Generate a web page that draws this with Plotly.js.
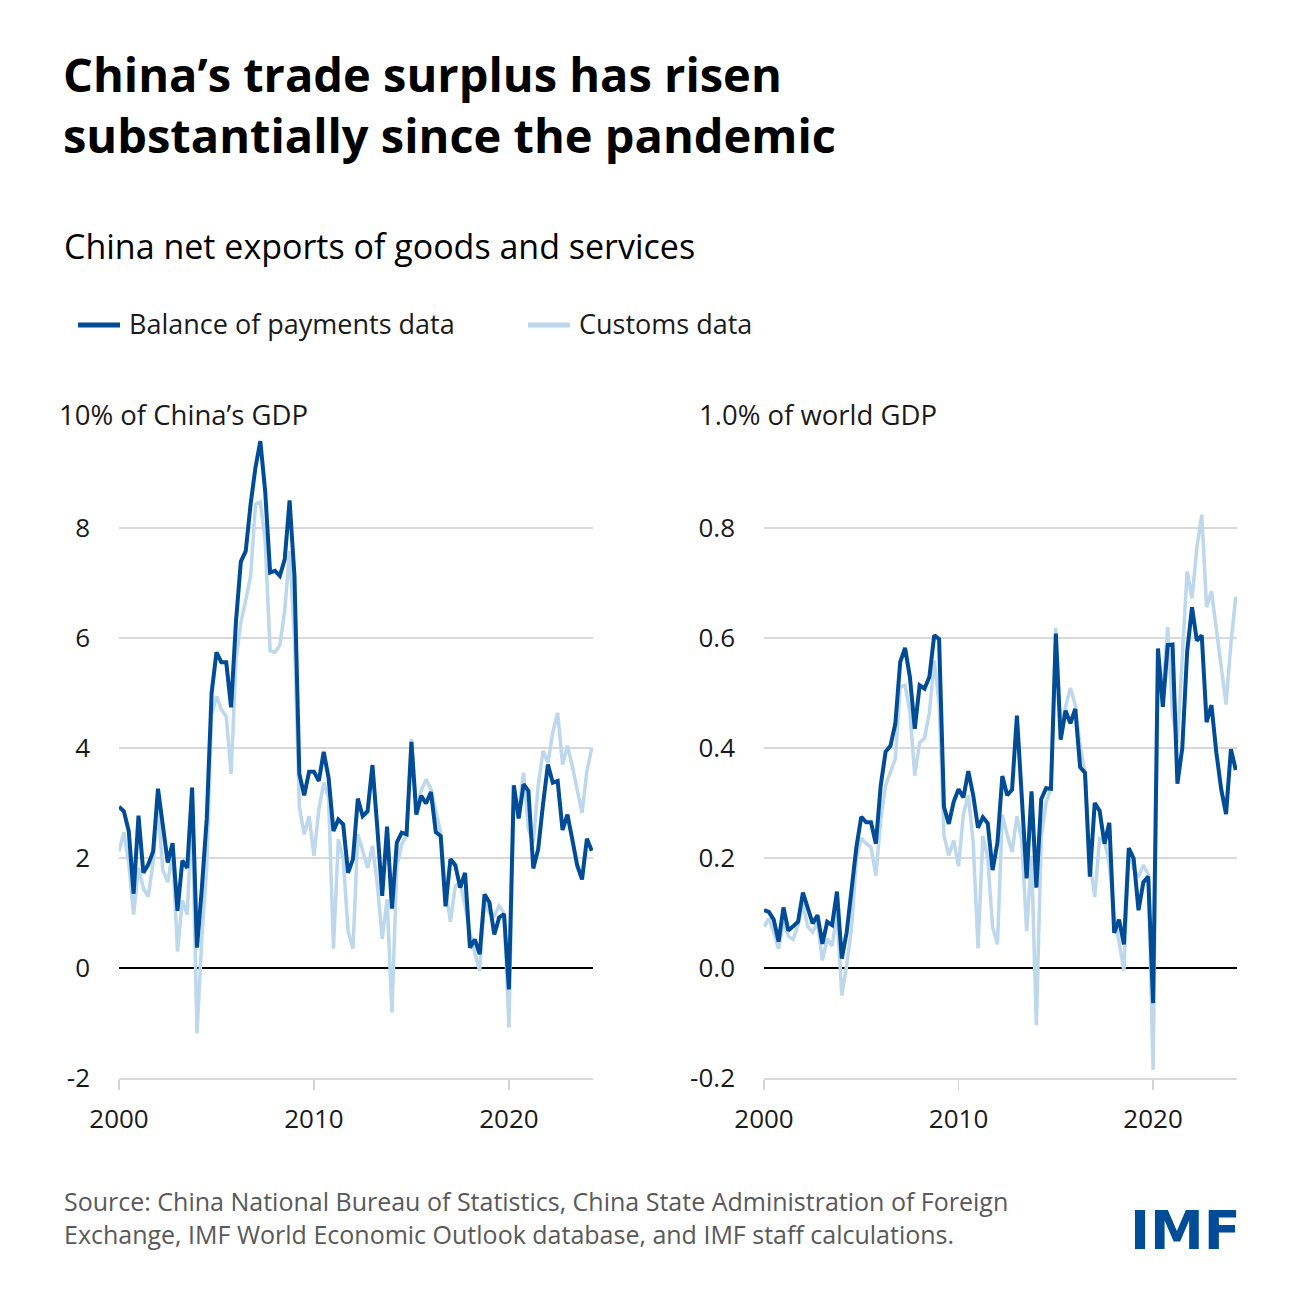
<!DOCTYPE html>
<html>
<head>
<meta charset="utf-8">
<script src="https://cdn.plot.ly/plotly-3.0.1.min.js"></script>
<style>
  html, body { margin: 0; padding: 0; background: #ffffff; }
  #chart { width: 1300px; height: 1300px; }
</style>
</head>
<body>
<div id="chart"></div>
<script>
// ---- Data (quarterly, 2000 Q1 – 2024 Q2) ----
const startYear = 2000;
const nQuarters = 98;

// Percent of China's GDP
const bopChinaGDP = [
  2.93, 2.85, 2.49, 1.35, 2.77, 1.73, 1.88, 2.12, 3.26, 2.56,
  1.92, 2.27, 1.04, 1.95, 1.82, 3.28, 0.37, 1.45, 2.71, 5.00,
  5.74, 5.56, 5.56, 4.74, 6.30, 7.39, 7.58, 8.43, 9.10, 9.58,
  8.66, 7.19, 7.22, 7.13, 7.43, 8.50, 7.13, 3.53, 3.14, 3.57,
  3.57, 3.40, 3.93, 3.46, 2.49, 2.70, 2.61, 1.73, 1.98, 3.08,
  2.76, 2.85, 3.69, 2.55, 1.31, 2.57, 1.08, 2.28, 2.46, 2.43,
  4.11, 2.79, 3.13, 2.99, 3.20, 2.47, 2.40, 1.12, 1.98, 1.87,
  1.46, 1.73, 0.37, 0.52, 0.25, 1.34, 1.19, 0.61, 0.92, 0.98,
  -0.39, 3.32, 2.72, 3.34, 3.22, 1.81, 2.16, 2.98, 3.70, 3.37,
  3.40, 2.51, 2.79, 2.34, 1.87, 1.61, 2.35, 2.13
];
const customsChinaGDP = [
  2.12, 2.47, 1.90, 0.97, 1.82, 1.45, 1.30, 1.93, 2.90, 1.78,
  1.56, 2.12, 0.30, 1.23, 0.97, 2.90, -1.19, 0.56, 1.82, 4.60,
  4.94, 4.70, 4.57, 3.53, 5.60, 6.28, 6.69, 7.13, 8.43, 8.47,
  7.76, 5.77, 5.74, 5.87, 6.50, 7.58, 6.00, 2.93, 2.43, 2.76,
  2.04, 2.88, 3.37, 3.10, 0.35, 2.34, 1.98, 0.67, 0.35, 2.43,
  2.13, 1.82, 2.22, 1.52, 0.53, 1.25, -0.81, 1.85, 2.25, 2.40,
  4.16, 2.88, 3.22, 3.43, 3.25, 2.88, 2.46, 1.43, 0.84, 1.49,
  1.55, 1.13, 0.64, 0.28, -0.05, 1.25, 1.00, 0.95, 1.13, 1.00,
  -1.08, 3.07, 2.88, 3.55, 2.52, 2.28, 3.31, 3.95, 3.73, 4.28,
  4.64, 3.70, 4.04, 3.67, 3.22, 2.82, 3.58, 4.00
];

// Percent of world GDP
const bopWorldGDP = [
  0.105, 0.102, 0.088, 0.048, 0.110, 0.068, 0.076, 0.084, 0.137, 0.108,
  0.081, 0.096, 0.044, 0.084, 0.078, 0.139, 0.017, 0.065, 0.138, 0.220,
  0.275, 0.265, 0.265, 0.226, 0.332, 0.393, 0.404, 0.444, 0.556, 0.582,
  0.529, 0.435, 0.514, 0.508, 0.529, 0.605, 0.598, 0.293, 0.262, 0.302,
  0.325, 0.310, 0.358, 0.315, 0.255, 0.274, 0.263, 0.178, 0.228, 0.349,
  0.314, 0.324, 0.459, 0.314, 0.163, 0.321, 0.146, 0.307, 0.327, 0.326,
  0.608, 0.415, 0.468, 0.445, 0.471, 0.365, 0.355, 0.166, 0.300, 0.286,
  0.226, 0.264, 0.064, 0.088, 0.043, 0.218, 0.199, 0.105, 0.156, 0.166,
  -0.064, 0.581, 0.475, 0.587, 0.588, 0.335, 0.400, 0.575, 0.656, 0.595,
  0.605, 0.447, 0.478, 0.392, 0.325, 0.280, 0.398, 0.360
];
const customsWorldGDP = [
  0.075, 0.090, 0.065, 0.035, 0.084, 0.058, 0.052, 0.078, 0.117, 0.075,
  0.065, 0.084, 0.014, 0.053, 0.040, 0.100, -0.050, 0.005, 0.072, 0.200,
  0.236, 0.226, 0.220, 0.168, 0.270, 0.332, 0.356, 0.380, 0.511, 0.514,
  0.465, 0.350, 0.410, 0.417, 0.465, 0.559, 0.480, 0.241, 0.205, 0.232,
  0.185, 0.280, 0.314, 0.230, 0.036, 0.240, 0.200, 0.074, 0.043, 0.279,
  0.242, 0.211, 0.276, 0.232, 0.067, 0.204, -0.104, 0.238, 0.300, 0.327,
  0.618, 0.430, 0.475, 0.509, 0.478, 0.403, 0.355, 0.194, 0.129, 0.235,
  0.232, 0.187, 0.098, 0.050, -0.005, 0.214, 0.180, 0.166, 0.187, 0.170,
  -0.185, 0.537, 0.504, 0.620, 0.460, 0.410, 0.570, 0.721, 0.672, 0.764,
  0.824, 0.656, 0.685, 0.615, 0.542, 0.479, 0.590, 0.675
];

const xTickLabels = ["2000", "2010", "2020"];
const leftYTicks = [-2, 0, 2, 4, 6, 8, 10];
const leftYTickText = ["-2", "0", "2", "4", "6", "8", ""];
const rightYTicks = [-0.2, 0.0, 0.2, 0.4, 0.6, 0.8, 1.0];
const rightYTickText = ["-0.2", "0.0", "0.2", "0.4", "0.6", "0.8", ""];

const seriesNames = ["Balance of payments data", "Customs data"];
const darkBlue = "#004c97";
const lightBlue = "#bdd7ec";

// quarter categories
const quarters = [];
for (let i = 0; i < nQuarters; i++) {
  quarters.push((startYear + Math.floor(i / 4)) + " Q" + (i % 4 + 1));
}
const xTickVals = xTickLabels.map(y => y + " Q1");

const W = 1300, H = 1300;
const px = v => v / W;
const py = v => 1 - v / H;

const FONT = "'Open Sans', Lato, 'Noto Sans', sans-serif";
const TXT = "#1a1a1a";

const traces = [
  { x: quarters, y: customsChinaGDP, xaxis: "x", yaxis: "y", type: "scatter", mode: "lines",
    name: seriesNames[1], line: { color: lightBlue, width: 3.5 }, showlegend: false },
  { x: quarters, y: bopChinaGDP, xaxis: "x", yaxis: "y", type: "scatter", mode: "lines",
    name: seriesNames[0], line: { color: darkBlue, width: 4 }, showlegend: false },
  { x: quarters, y: customsWorldGDP, xaxis: "x2", yaxis: "y2", type: "scatter", mode: "lines",
    name: seriesNames[1], line: { color: lightBlue, width: 3.5 }, showlegend: false },
  { x: quarters, y: bopWorldGDP, xaxis: "x2", yaxis: "y2", type: "scatter", mode: "lines",
    name: seriesNames[0], line: { color: darkBlue, width: 4 }, showlegend: false }
];

const xAxisCommon = {
  type: "category",
  range: [0, 97.25],
  tickmode: "array",
  tickvals: xTickVals,
  ticktext: xTickLabels,
  ticks: "outside",
  ticklen: 10,
  tickwidth: 1.5,
  tickcolor: "#d4d4d4",
  ticklabelstandoff: 7,
  showline: true,
  linecolor: "#d9d9d9",
  linewidth: 1.5,
  showgrid: false,
  zeroline: false,
  tickfont: { family: FONT, size: 26, color: TXT },
  fixedrange: true
};
const yAxisCommon = {
  tickmode: "array",
  ticks: "",
  showgrid: true,
  gridcolor: "#d9d9d9",
  gridwidth: 1.5,
  zeroline: true,
  zerolinecolor: "#000000",
  zerolinewidth: 1.5,
  showline: false,
  ticklabelstandoff: 28,
  tickfont: { family: FONT, size: 26, color: TXT },
  fixedrange: true
};

const layout = {
  width: W,
  height: H,
  margin: { l: 0, r: 0, t: 0, b: 0 },
  paper_bgcolor: "#ffffff",
  plot_bgcolor: "#ffffff",
  showlegend: false,
  title: {
    text: "<b>China’s trade surplus has risen<br>substantially since the pandemic</b>",
    font: { family: FONT, size: 47, color: "#000000", weight: 800 },
    x: px(63), xanchor: "left", xref: "paper",
    y: py(92), yanchor: "middle", yref: "paper"
  },
  xaxis: Object.assign({}, xAxisCommon, { domain: [px(119), px(593)], anchor: "y" }),
  xaxis2: Object.assign({}, xAxisCommon, { domain: [px(764), px(1237)], anchor: "y2" }),
  yaxis: Object.assign({}, yAxisCommon, {
    domain: [py(1078), py(418)], range: [-2, 10], tickvals: leftYTicks, ticktext: leftYTickText, anchor: "x"
  }),
  yaxis2: Object.assign({}, yAxisCommon, {
    domain: [py(1078), py(418)], range: [-0.2, 1.0], tickvals: rightYTicks, ticktext: rightYTickText, anchor: "x2"
  }),
  shapes: [
    { type: "line", xref: "paper", yref: "paper", x0: px(78), x1: px(120), y0: py(325), y1: py(325),
      line: { color: darkBlue, width: 5 } },
    { type: "line", xref: "paper", yref: "paper", x0: px(528), x1: px(570), y0: py(325), y1: py(325),
      line: { color: lightBlue, width: 5 } }
  ],
  annotations: [
    { text: "China net exports of goods and services", xref: "paper", yref: "paper",
      x: px(62), xanchor: "left", y: py(246), yanchor: "middle", showarrow: false,
      font: { family: FONT, size: 34, color: "#000000" } },
    { text: seriesNames[0], xref: "paper", yref: "paper",
      x: px(127), xanchor: "left", y: py(323), yanchor: "middle", showarrow: false,
      font: { family: FONT, size: 27, color: TXT } },
    { text: seriesNames[1], xref: "paper", yref: "paper",
      x: px(577), xanchor: "left", y: py(323), yanchor: "middle", showarrow: false,
      font: { family: FONT, size: 27, color: TXT } },
    { text: "10% of China’s GDP", xref: "paper", yref: "y",
      x: px(53), xanchor: "left", y: 10, yshift: 4, yanchor: "middle", showarrow: false,
      bgcolor: "#ffffff", borderpad: 5,
      font: { family: FONT, size: 27.5, color: TXT } },
    { text: "1.0% of world GDP", xref: "paper", yref: "y2",
      x: px(693), xanchor: "left", y: 1.0, yshift: 4, yanchor: "middle", showarrow: false,
      bgcolor: "#ffffff", borderpad: 5,
      font: { family: FONT, size: 27.5, color: TXT } },
    { text: "Source: China National Bureau of Statistics, China State Administration of Foreign<br>Exchange, IMF World Economic Outlook database, and IMF staff calculations.",
      xref: "paper", yref: "paper", x: px(62), xanchor: "left", y: py(1217), yanchor: "middle",
      align: "left", showarrow: false,
      font: { family: FONT, size: 25, color: "#595959" } },
    { text: "<b>IMF</b>", xref: "paper", yref: "paper", x: px(1243), xanchor: "right",
      y: py(1230), yanchor: "middle", showarrow: false,
      font: { family: "'DejaVu Sans', sans-serif", size: 54, color: "#004c97" } }
  ]
};

Plotly.newPlot("chart", traces, layout, { displayModeBar: false, staticPlot: true });
</script>
</body>
</html>
